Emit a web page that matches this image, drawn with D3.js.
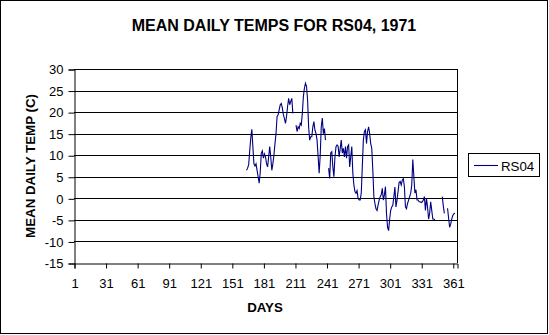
<!DOCTYPE html>
<html>
<head>
<meta charset="utf-8">
<script src="https://cdn.jsdelivr.net/npm/d3@7"></script>
<style>
  html, body { margin: 0; padding: 0; background: #fff; }
  svg { display: block; font-family: "Liberation Sans", Arial, sans-serif; }
</style>
</head>
<body>
<svg id="chart" width="549" height="335"></svg>
<script>
// Mean daily temperature, station RS04, 1971 (deg C). Index 0 = day 165; null = no reading.
const firstDay = 165;
const meanTemp = [
  // days 165-209
  6.5, 7, 7.8, 11, 14, 16, 12, 8, 7.5, 8,
  6.5, 5, 3.5, 6, 10.5, 11, 9.3, 10.3, 9.6, 8,
  7.3, 9.6, 12, 9.6, 6.5, 8, 10, 12.7, 15, 19,
  19.4, 20.5, 21.7, 22, 21, 19.4, 18.5, 17.4, 19, 21.3,
  23.2, 21.7, 22.5, 23.2, 19.7,
  // days 210-211
  null, null,
  // days 212-240
  17, 15.5, 16.6, 16.2, 17.4, 17, 19.7, 23.6, 25.6, 26.7,
  26, 22.8, 16.5, 13.5, 14.3, 14.3, 16.6, 17.8, 15.8, 15,
  13.5, 9.7, 5.8, 10, 16.6, 18.6, 15, 16.2, 13.5,
  // days 241-242
  null, null,
  // days 243-344
  7, 4.6, 10.5, 10.8, 7.3, 5, 9.6, 12, 12.4, 12.1,
  9.6, 11.6, 13.5, 10.5, 11.6, 9.6, 12, 9.3, 12, 12.4,
  7.3, 9.6, 12, 5.8, 3.1, 1.6, 1.2, 1.8, 0, -0.4,
  -0.4, 1.2, 7.3, 13.5, 15.5, 15.9, 12.7, 15.5, 16.6, 15,
  12.7, 11.6, 6.5, 0.4, -1.2, -2.4, -2.8, -1.6, -0.4, 0.4,
  0.8, 2.3, -0.4, 0.8, 2.7, -3.5, -6.7, -7.5, -4.8, -2.8,
  -2, -1.6, 0.4, 2.6, -2, -0.4, 1.6, 3.7, 3.9, 3.1,
  4.2, 4.6, 2.7, -2, -2.4, -1.2, -0.4, 0.4, 1.2, 3.1,
  9, 5, 1.2, 2, -0.4, -0.4, -0.8, -0.8, -1, -0.8,
  -0.4, 0.4, -2.8, 0, -2, -4.8, -3.5, -0.8, -2.8, -4.8,
  -4.8, -5,
  // days 345-350
  null, null, null, null, null, null,
  // days 351-353
  0.4, -1.8, -3.5,
  // days 354-355
  null, null,
  // days 356-363
  -2.3, -4.5, -6.7, -6, -4.8, -4, -3.6, -3.4
];

const dayTicks = [1, 31, 61, 91, 121, 151, 181, 211, 241, 271, 301, 331, 361];
const tempTicks = [-15, -10, -5, 0, 5, 10, 15, 20, 25, 30];
const seriesName = "RS04";
const chartTitle = "MEAN DAILY TEMPS FOR RS04, 1971";
const xTitle = "DAYS";
const yTitle = "MEAN DAILY TEMP (C)";

const series = meanTemp.map((v, i) => ({ day: firstDay + i, temp: v }));

const svg = d3.select("#chart");
const plot = { left: 74, right: 457, top: 69, bottom: 263 };

const x = d3.scaleLinear().domain([1, 365]).range([plot.left, plot.right]);
const y = d3.scaleLinear().domain([-15, 30]).range([plot.bottom, plot.top]);

// outer frame
svg.append("rect")
  .attr("x", 0.5).attr("y", 0.5)
  .attr("width", 547).attr("height", 333)
  .attr("fill", "#fff").attr("stroke", "#000").attr("stroke-width", 1);

// horizontal gridlines
svg.append("g")
  .selectAll("line")
  .data(tempTicks.filter(t => t > -15))
  .join("line")
  .attr("x1", plot.left).attr("x2", plot.right)
  .attr("y1", d => Math.round(y(d)) + 0.5)
  .attr("y2", d => Math.round(y(d)) + 0.5)
  .attr("stroke", "#000").attr("stroke-width", 1);

// right edge of plot area
svg.append("line")
  .attr("x1", plot.right + 0.5).attr("x2", plot.right + 0.5)
  .attr("y1", plot.top).attr("y2", plot.bottom)
  .attr("stroke", "#000");

// y axis
const yAxis = d3.axisLeft(y)
  .tickValues(tempTicks)
  .tickSize(6)
  .tickPadding(5)
  .tickFormat(d => String(d));
const gy = svg.append("g")
  .attr("transform", `translate(${plot.left + 0.5},0.5)`)
  .call(yAxis);

// x axis
const xAxis = d3.axisBottom(x)
  .tickValues(dayTicks)
  .tickSize(5)
  .tickPadding(10)
  .tickFormat(d => String(d));
const gx = svg.append("g")
  .attr("transform", `translate(0.5,${plot.bottom + 0.5})`)
  .call(xAxis);

[gx, gy].forEach(g => {
  g.select(".domain").attr("stroke", "#000");
  g.selectAll(".tick line").attr("stroke", "#000");
  g.selectAll(".tick text")
    .attr("fill", "#000")
    .style("font-family", "'Liberation Sans', Arial, sans-serif")
    .style("font-size", "13px");
});

// temperature line
const line = d3.line()
  .defined(d => d.temp !== null)
  .x(d => x(d.day))
  .y(d => y(d.temp));

svg.append("path")
  .datum(series)
  .attr("fill", "none")
  .attr("stroke", "#000080")
  .attr("stroke-width", 1.1)
  .attr("stroke-linejoin", "miter")
  .attr("d", line);

// titles
svg.append("text")
  .attr("x", 274).attr("y", 31)
  .attr("text-anchor", "middle")
  .style("font-size", "16px").style("font-weight", "bold")
  .text(chartTitle);

svg.append("text")
  .attr("x", 265).attr("y", 312)
  .attr("text-anchor", "middle")
  .style("font-size", "13.3px").style("font-weight", "bold")
  .text(xTitle);

svg.append("text")
  .attr("transform", "translate(35,166) rotate(-90)")
  .attr("text-anchor", "middle")
  .style("font-size", "13.3px").style("font-weight", "bold")
  .text(yTitle);

// legend
const legend = svg.append("g");
legend.append("rect")
  .attr("x", 468.5).attr("y", 153.5)
  .attr("width", 71).attr("height", 23)
  .attr("fill", "#fff").attr("stroke", "#000");
legend.append("line")
  .attr("x1", 474).attr("x2", 498)
  .attr("y1", 165.5).attr("y2", 165.5)
  .attr("stroke", "#000080").attr("stroke-width", 1.1);
legend.append("text")
  .attr("x", 501).attr("y", 170.5)
  .style("font-size", "13.3px")
  .text(seriesName);
</script>
</body>
</html>
